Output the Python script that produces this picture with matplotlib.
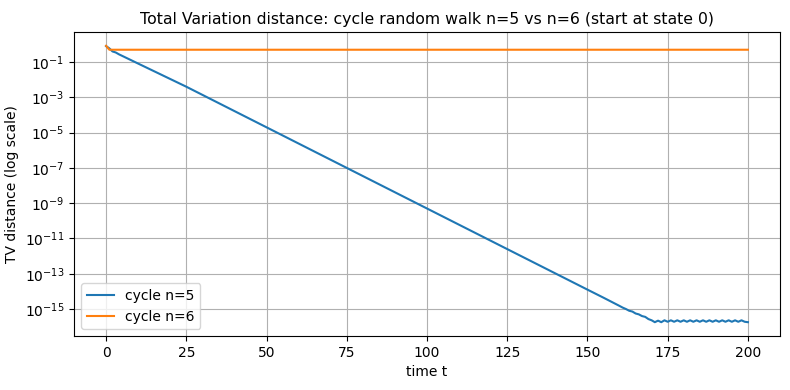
import matplotlib
matplotlib.use("Agg")
import matplotlib.pyplot as plt

# cycle n=5 TV distance
t5 = [0, 1, 2, 3, 4, 5, 10, 25, 50, 75, 100, 125, 150, 155, 160, 161, 162, 163, 164, 165,
      166, 167, 168, 169, 170, 171, 172, 173, 174, 175, 176, 177, 178, 179, 180, 181, 182,
      183, 184, 185, 186, 187, 188, 189, 190, 191, 192, 193, 194, 195, 196, 197, 198, 199, 200]
tv5 = [0.8, 0.6, 0.4, 0.35, 0.275, 0.225, 8.2e-2, 4.0e-3, 2.0e-5, 1.0e-7, 5.0e-10, 2.5e-12,
       1.26e-14, 4.4e-15, 1.5e-15, 1.2e-15, 1.0e-15, 8.0e-16, 7.2e-16, 5.6e-16,
       5.0e-16, 4.0e-16, 3.6e-16, 2.7e-16, 2.3e-16, 1.8e-16, 2.2e-16, 1.8e-16, 2.3e-16, 1.9e-16,
       2.3e-16, 1.9e-16, 2.3e-16, 1.9e-16, 2.3e-16, 1.9e-16, 2.3e-16, 1.9e-16, 2.3e-16, 1.9e-16,
       2.3e-16, 1.9e-16, 2.3e-16, 1.9e-16, 2.3e-16, 1.9e-16, 2.3e-16, 1.9e-16, 2.3e-16, 1.9e-16,
       2.3e-16, 1.9e-16, 2.3e-16, 1.9e-16, 1.8e-16]

# cycle n=6 TV distance
t6 = [0, 1, 200]
tv6 = [0.8333, 0.5, 0.5]

labels = ["cycle n=5", "cycle n=6"]

fig, ax = plt.subplots(figsize=(7.9, 3.9), dpi=100)
ax.plot(t5, tv5, color="#1f77b4", label=labels[0])
ax.plot(t6, tv6, color="#ff7f0e", label=labels[1])
ax.set_yscale("log")
ax.set_xlabel("time t")
ax.set_ylabel("TV distance (log scale)")
ax.set_title("Total Variation distance: cycle random walk n=5 vs n=6 (start at state 0)",
             fontsize=11.3)
ax.grid(True)
ax.legend(loc="lower left")
fig.subplots_adjust(left=74/790, right=780/790, top=1-32/390, bottom=1-336/390)
fig.savefig("out.png")
